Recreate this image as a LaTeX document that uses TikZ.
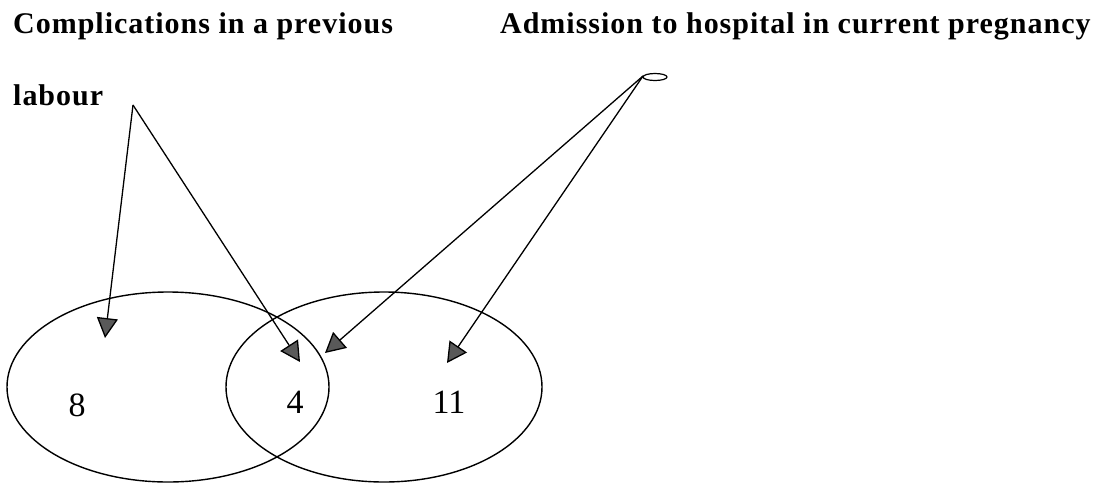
\documentclass[tikz,border=0pt]{standalone}
\usepackage{fontspec}
\setmainfont{Liberation Serif}
\newfontfamily\headfont[LetterSpace=3.3]{Liberation Serif}
\usetikzlibrary{arrows.meta,shapes.geometric}

\tikzset{
  heading/.style={font=\headfont\fontsize{30}{33}\selectfont\bfseries, anchor=base west, inner sep=0pt},
  setshape/.style={draw, ellipse, line width=1.4pt, inner sep=0pt},
  count/.style={font=\fontsize{34}{38}\selectfont, inner sep=0pt},
  pointer/.style={line width=1.3pt, -{Triangle[length=20pt,width=21pt,fill=black!65]}},
}

\begin{document}
\begin{tikzpicture}[x=1pt,y=-1pt]
  \useasboundingbox (0,0) rectangle (1105,483);

  % headings
  \node[heading] (hA) at (13,33) {Complications in a previous};
  \node[heading] (hA2) at (13,105) {labour};
  \node[heading] (hB) at (500,33) {Admission to hospital in current pregnancy};

  % the two overlapping sets
  \node[setshape, minimum width=322pt, minimum height=190pt] (left) at (168,387) {};
  \node[setshape, minimum width=316pt, minimum height=190pt] (right) at (384,387) {};

  % counts
  \node[count] (n8) at (77,405) {8};
  \node[count] (n4) at (295,402) {4};
  \node[count] (n11) at (449,402) {11};

  % arrow origins
  \coordinate (lab) at (133,105);
  \node[draw, ellipse, line width=1.2pt, minimum width=24pt, minimum height=7pt, inner sep=0pt] (adm) at (655,77) {};
  \coordinate (admo) at (643,76);

  % arrow targets
  \coordinate (t1) at (105,338);
  \coordinate (t2) at (300,362);
  \coordinate (t3) at (325,353);
  \coordinate (t4) at (447,363);

  \draw[pointer] (lab) -- (t1);
  \draw[pointer] (lab) -- (t2);
  \draw[pointer] (admo) -- (t3);
  \draw[pointer] (admo) -- (t4);
\end{tikzpicture}
\end{document}
